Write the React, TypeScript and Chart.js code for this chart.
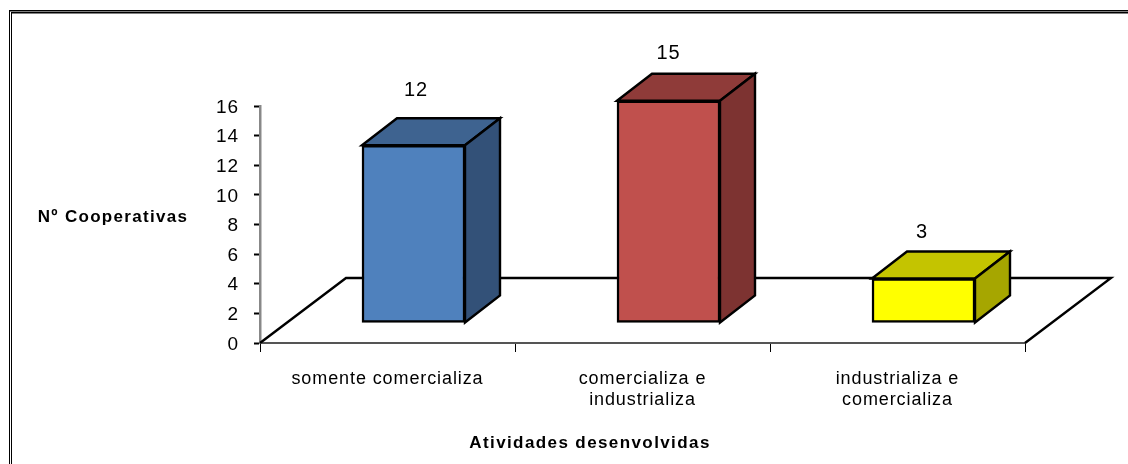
import React, { useEffect, useRef } from "react";
import { Chart, registerables } from "chart.js";

Chart.register(...registerables);

const categories = [
  "somente comercializa",
  ["comercializa e", "industrializa"],
  ["industrializa e", "comercializa"],
];
const cooperativas = [12, 15, 3];
const valueLabels = ["12", "15", "3"];
const yTitle = "Nº Cooperativas";
const xTitle = "Atividades desenvolvidas";

const frontColors = ["#4F81BD", "#C0504D", "#FFFF00"];
const topColors = ["#3E6390", "#8F3B39", "#C4C400"];
const sideColors = ["#335178", "#7D3331", "#A6A600"];

const FONT = '"Liberation Sans", Arial, sans-serif';
const BAR_DX = 26;
const BAR_DY = -20;
const DEPTH_X = 35;
const DEPTH_Y = -27;
const FLOOR_DX = 86;
const FLOOR_DY = -65;
const LABEL_SHIFT_X = [2.5, 0, -1.5];
const LABEL_LIFT = [75, 67, 66];

function poly(ctx: CanvasRenderingContext2D, pts: number[][], fill?: string) {
  ctx.beginPath();
  pts.forEach((p, i) => (i ? ctx.lineTo(p[0], p[1]) : ctx.moveTo(p[0], p[1])));
  if (fill) {
    ctx.closePath();
    ctx.fillStyle = fill;
    ctx.fill();
  }
  ctx.stroke();
}

const threeD = {
  id: "threeD",
  beforeDraw(chart: any) {
    const ctx = chart.ctx as CanvasRenderingContext2D;
    ctx.save();
    ctx.strokeStyle = "#000";
    ctx.lineWidth = 1.5;
    ctx.beginPath();
    ctx.moveTo(1128, 10.7);
    ctx.lineTo(9.5, 10.7);
    ctx.moveTo(1128, 12.8);
    ctx.lineTo(12, 12.8);
    ctx.stroke();
    ctx.lineWidth = 1;
    ctx.beginPath();
    ctx.moveTo(9.5, 10);
    ctx.lineTo(9.5, 464);
    ctx.moveTo(11.5, 12);
    ctx.lineTo(11.5, 464);
    ctx.stroke();
    ctx.restore();
    (ctx as any).letterSpacing = "0.9px";
  },
  beforeDatasetsDraw(chart: any) {
    const ctx = chart.ctx as CanvasRenderingContext2D;
    const { left, right, bottom } = chart.chartArea;
    ctx.save();
    ctx.strokeStyle = "#000";
    ctx.lineWidth = 2.4;
    poly(ctx, [
      [left, bottom],
      [left + FLOOR_DX, bottom + FLOOR_DY],
      [right + FLOOR_DX, bottom + FLOOR_DY],
      [right, bottom],
    ]);
    chart.getDatasetMeta(0).data.forEach((bar: any, i: number) => {
      const half = bar.width / 2;
      const l = bar.x - half + BAR_DX;
      const r = bar.x + half + BAR_DX;
      const t = bar.y + BAR_DY;
      const b = bar.base + BAR_DY;
      poly(ctx, [[l, t], [l + DEPTH_X, t + DEPTH_Y], [r + DEPTH_X, t + DEPTH_Y], [r, t]], topColors[i]);
      poly(ctx, [[r, t], [r + DEPTH_X, t + DEPTH_Y], [r + DEPTH_X, b + DEPTH_Y], [r, b]], sideColors[i]);
    });
    ctx.restore();
  },
  beforeDatasetDraw(chart: any) {
    chart.ctx.save();
    chart.ctx.translate(BAR_DX, BAR_DY);
  },
  afterDatasetDraw(chart: any) {
    chart.ctx.restore();
  },
  afterDraw(chart: any) {
    const ctx = chart.ctx as CanvasRenderingContext2D;
    const xs = chart.scales.x;
    const ys = chart.scales.y;
    ctx.save();
    ctx.fillStyle = "#000";
    ctx.textAlign = "center";
    ctx.textBaseline = "middle";
    ctx.font = `20px ${FONT}`;
    cooperativas.forEach((v, i) => {
      ctx.fillText(valueLabels[i], xs.getPixelForValue(i) + BAR_DX + LABEL_SHIFT_X[i], ys.getPixelForValue(v) - LABEL_LIFT[i]);
    });
    ctx.font = `bold 17px ${FONT}`;
    (ctx as any).letterSpacing = "1.3px";
    ctx.fillText(yTitle, 113, 217);
    (ctx as any).letterSpacing = "1.4px";
    ctx.fillText(xTitle, 590, 443);
    ctx.restore();
  },
};

export default function App() {
  const ref = useRef<HTMLCanvasElement>(null);
  useEffect(() => {
    const chart = new Chart(ref.current!, {
      type: "bar",
      data: {
        labels: categories as any,
        datasets: [
          {
            data: cooperativas,
            backgroundColor: frontColors,
            borderColor: "#000",
            borderWidth: 2.5,
            borderSkipped: false,
            barThickness: 103,
          },
        ],
      },
      plugins: [threeD],
      options: {
        animation: false,
        responsive: false,
        devicePixelRatio: 1,
        layout: { padding: { top: 106, right: 103 } },
        plugins: { legend: { display: false }, tooltip: { enabled: false } },
        scales: {
          x: {
            afterFit: (s: any) => {
              s.height = 121;
            },
            grid: { drawOnChartArea: false, tickLength: 9, color: "#000", tickWidth: 1 },
            border: { color: "#555", width: 2 },
            ticks: { color: "#000", font: { family: FONT, size: 18 }, padding: 16, maxRotation: 0 },
          },
          y: {
            min: 0,
            max: 16,
            afterFit: (s: any) => {
              s.width = 260;
            },
            grid: { drawOnChartArea: false, tickLength: 6, color: "#000", tickWidth: 2 },
            border: { color: "#888", width: 2.5 },
            ticks: { stepSize: 2, color: "#000", font: { family: FONT, size: 19 }, padding: 15, labelOffset: 1.5 },
          },
        },
      } as any,
    });
    return () => chart.destroy();
  }, []);
  return (
    <div style={{ position: "absolute", left: 0, top: 0, width: 1128, height: 464, background: "#fff" }}>
      <canvas ref={ref} width={1128} height={464} style={{ display: "block" }} />
    </div>
  );
}
